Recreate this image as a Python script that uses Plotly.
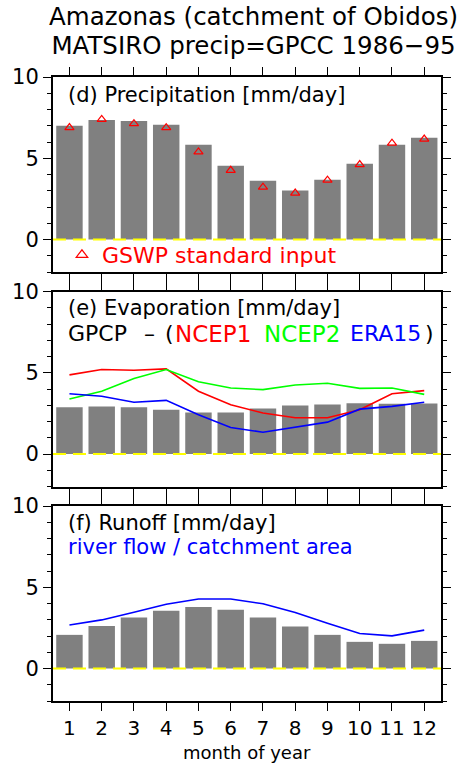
import plotly.graph_objects as go

# ---- data (mm/day), monthly means 1986-95 ----
months = list(range(1, 13))
month_labels = [str(m) for m in months]

precip_matsiro = [7.00, 7.36, 7.30, 7.06, 5.83, 4.54, 3.62, 3.01, 3.68, 4.66, 5.83, 6.26]
precip_gswp = [6.89, 7.39, 7.13, 6.88, 5.39, 4.26, 3.22, 2.86, 3.65, 4.61, 5.93, 6.18]

evap_matsiro = [2.87, 2.93, 2.87, 2.72, 2.56, 2.56, 2.80, 2.99, 3.05, 3.13, 3.09, 3.11]
evap_ncep1 = [4.87, 5.20, 5.15, 5.24, 3.86, 3.03, 2.52, 2.23, 2.23, 2.72, 3.71, 3.90]
evap_ncep2 = [3.38, 3.86, 4.64, 5.20, 4.45, 4.06, 3.96, 4.25, 4.35, 4.04, 4.06, 3.67]
evap_era15 = [3.71, 3.55, 3.18, 3.30, 2.41, 1.63, 1.34, 1.67, 1.96, 2.76, 2.93, 3.18]

runoff_matsiro = [2.07, 2.62, 3.14, 3.55, 3.79, 3.61, 3.14, 2.58, 2.07, 1.64, 1.52, 1.70]
runoff_river = [2.68, 2.99, 3.46, 3.95, 4.28, 4.28, 3.98, 3.44, 2.79, 2.15, 2.01, 2.36]

y_ticks = [0, 5, 10]

# ---- page geometry (pixels) ----
W, H = 474, 767
L, R, T, B = 51, 33, 77, 66
PW, PH = W - L - R, H - T - B
FONT = "DejaVu Sans"

GRAY = "#808080"
RED, GREEN, BLUE, YELLOW = "#ff0000", "#00ff00", "#0000ff", "#ffff00"


def fx(px):
    return (px - L) / PW


def fy(py):
    return (H - B - py) / PH


# panel extents (top, bottom) in pixels
panels = [(77, 272), (291.5, 486.5), (506, 701)]

fig = go.Figure()

# (d) precipitation
fig.add_trace(go.Bar(x=months, y=precip_matsiro, width=0.82, marker_color=GRAY,
                     marker_line_width=0, showlegend=False, xaxis="x", yaxis="y"))
fig.add_trace(go.Scatter(x=months, y=precip_gswp, mode="markers",
                         marker=dict(symbol="triangle-up-open", size=8, color=RED,
                                     line=dict(width=1.2, color=RED)),
                         showlegend=False, xaxis="x", yaxis="y"))
# legend key for the GSWP triangles (slightly larger symbol)
fig.add_trace(go.Scatter(x=[None], y=[None], mode="markers", name="GSWP standard input",
                         marker=dict(symbol="triangle-up-open", size=10, color=RED,
                                     line=dict(width=1.2, color=RED)),
                         showlegend=True, xaxis="x", yaxis="y"))

# (e) evaporation
fig.add_trace(go.Bar(x=months, y=evap_matsiro, width=0.82, marker_color=GRAY,
                     marker_line_width=0, showlegend=False, xaxis="x2", yaxis="y2"))
for vals, col in [(evap_ncep1, RED), (evap_ncep2, GREEN), (evap_era15, BLUE)]:
    fig.add_trace(go.Scatter(x=months, y=vals, mode="lines", line=dict(color=col, width=1.6),
                             showlegend=False, xaxis="x2", yaxis="y2"))

# (f) runoff
fig.add_trace(go.Bar(x=months, y=runoff_matsiro, width=0.82, marker_color=GRAY,
                     marker_line_width=0, showlegend=False, xaxis="x3", yaxis="y3"))
fig.add_trace(go.Scatter(x=months, y=runoff_river, mode="lines", line=dict(color=BLUE, width=1.6),
                         showlegend=False, xaxis="x3", yaxis="y3"))

axis_common = dict(showline=True, linewidth=2, linecolor="black", mirror="ticks",
                   ticks="outside", tickwidth=1, tickcolor="black", showgrid=False,
                   zeroline=False)

layout = dict(width=W, height=H, margin=dict(l=L, r=R, t=T, b=B, pad=0),
              paper_bgcolor="white", plot_bgcolor="white",
              font=dict(family=FONT, color="black"))

for i, (top, bot) in enumerate(panels):
    sx = "" if i == 0 else str(i + 1)
    layout["xaxis" + sx] = dict(axis_common, domain=[0, 1], range=[0.49, 12.52],
                                anchor="y" + sx, tickvals=months, ticktext=month_labels,
                                ticklen=8, showticklabels=(i == 2),
                                tickfont=dict(family=FONT, size=20, color="black"))
    layout["yaxis" + sx] = dict(axis_common, domain=[fy(bot), fy(top)], range=[-2, 10],
                                anchor="x" + sx, tickvals=y_ticks, ticklen=8,
                                tickfont=dict(family=FONT, size=21, color="black"),
                                minor=dict(dtick=1, tick0=0, ticks="outside", ticklen=4,
                                           tickwidth=1, tickcolor="black", showgrid=False))

fig.update_layout(**layout)

# dashed zero line on each panel
for i in range(3):
    sx = "" if i == 0 else str(i + 1)
    fig.add_shape(type="line", xref=("x" + sx + " domain"), yref="y" + sx,
                  x0=0, x1=1, y0=0, y1=0, layer="above",
                  line=dict(color=YELLOW, width=2, dash="13px,7px"))

fig.update_layout(legend=dict(x=fx(60), y=fy(255), xanchor="left", yanchor="middle",
                              bgcolor="rgba(0,0,0,0)", borderwidth=0,
                              font=dict(family=FONT, size=22, color=RED)))


def ann(text, px, py, size, color="black", xanchor="left"):
    fig.add_annotation(text=text, xref="paper", yref="paper", x=fx(px), y=fy(py),
                       xanchor=xanchor, yanchor="middle", showarrow=False,
                       font=dict(family=FONT, size=size, color=color))


# two-line heading; the base size sets the line spacing
big = '<span style="font-size:24.5px">{}</span>'
ann(big.format("Amazonas (catchment of Obidos)") + "<br>"
    + big.format("MATSIRO precip=GPCC 1986\u221295"), 45, 31.0, 22.5)

ann("(d) Precipitation [mm/day]", 64, 94.5, 21)
ann("(e) Evaporation [mm/day]", 64, 308.3, 21)
ann("GPCP", 64, 333.8, 22)
ann("\u2013", 140, 333.8, 22)
ann("(", 162, 333.8, 22)
ann("NCEP1", 172, 333.8, 23, RED)
ann("NCEP2", 261, 333.8, 23, GREEN)
ann("ERA15", 348, 333.8, 22, BLUE)
ann(")", 423, 333.8, 22)
ann("(f) Runoff [mm/day]", 64, 522.5, 21)
ann("river flow / catchment area", 64, 547, 21, BLUE)
ann("month of year", 246.5, 752, 18, xanchor="center")

fig.write_html("out.html")
